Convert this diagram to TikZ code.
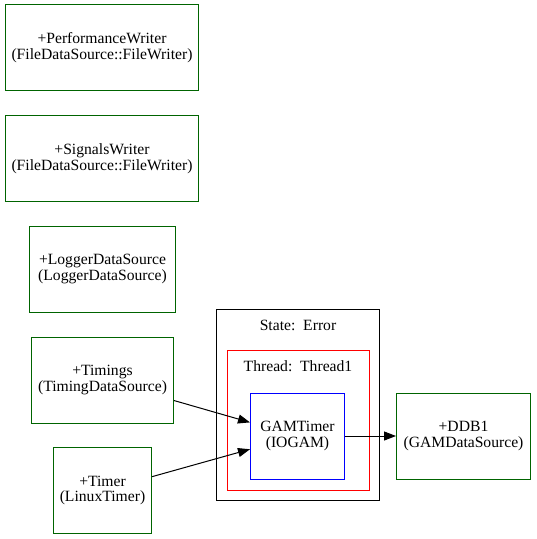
\documentclass[tikz,border=0pt]{standalone}
\usepackage{fontspec}
\setmainfont{Liberation Serif}
\usetikzlibrary{arrows.meta}
\definecolor{gdark}{RGB}{0,100,0}
\begin{document}
\begin{tikzpicture}[x=1bp,y=-1bp,
  txt/.style={font=\fontsize{15.7}{16}\selectfont, align=center},
  box/.style={txt, draw, inner sep=0pt, line width=1bp},
  ds/.style={box, draw=gdark},
  gambox/.style={box, draw=blue},
  arr/.style={-{Triangle[length=12bp,width=9bp]}, line width=1bp}]
\useasboundingbox (0,0) rectangle (537,539);
\node[ds, minimum width=193bp, minimum height=86bp] (perf) at (102,47.5) {+PerformanceWriter\\(FileDataSource::FileWriter)};
\node[ds, minimum width=193bp, minimum height=86bp] (sig) at (102,158.5) {+SignalsWriter\\(FileDataSource::FileWriter)};
\node[ds, minimum width=146bp, minimum height=86bp] (logger) at (102.5,269) {+LoggerDataSource\\(LoggerDataSource)};
\node[ds, minimum width=142bp, minimum height=86bp] (timings) at (102.5,380) {+Timings\\(TimingDataSource)};
\node[ds, minimum width=98bp, minimum height=86bp] (timer) at (102.5,490.5) {+Timer\\(LinuxTimer)};
\draw[line width=1bp] (216.5,309.5) rectangle (379.5,500.5);
\node[txt] (statelbl) at (298,325) {State:\ \ Error};
\draw[line width=1bp, red] (227.5,350.5) rectangle (369.5,490.5);
\node[txt] (threadlbl) at (298,366) {Thread:\ \ Thread1};
\node[gambox, minimum width=94bp, minimum height=86bp] (gam) at (297.5,436) {GAMTimer\\(IOGAM)};
\node[ds, minimum width=134bp, minimum height=86bp] (ddb) at (463.5,436) {+DDB1\\(GAMDataSource)};
\draw[arr] (timings) -- (gam);
\draw[arr] (timer) -- (gam);
\draw[arr] (gam) -- (ddb);
\end{tikzpicture}
\end{document}
